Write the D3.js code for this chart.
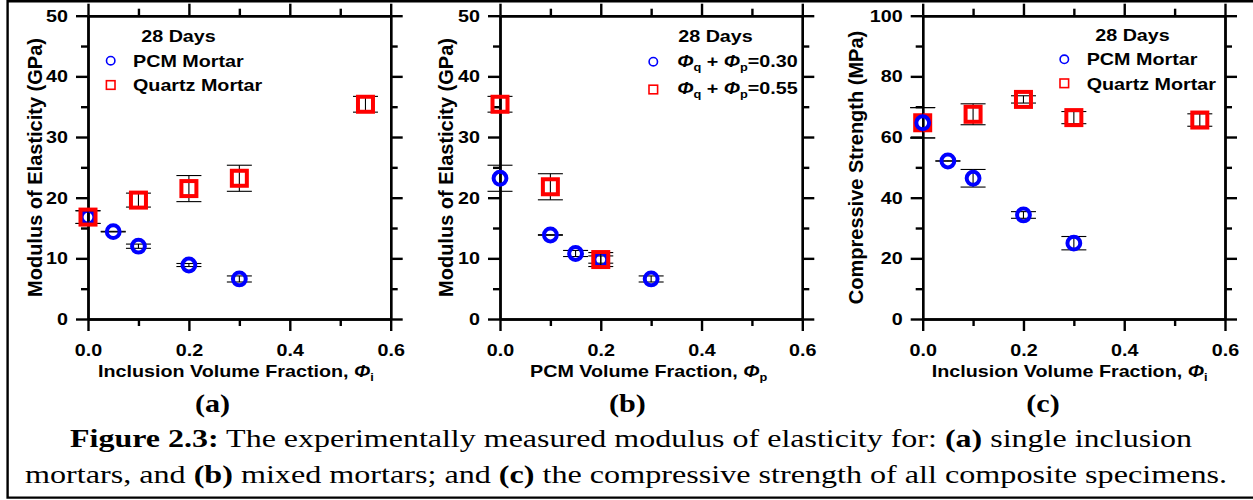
<!DOCTYPE html>
<html>
<head>
<meta charset="utf-8">
<script src="https://cdn.jsdelivr.net/npm/d3@7"></script>
<style>
  html, body { margin: 0; padding: 0; background: #fff; }
  svg { display: block; }
  text { white-space: pre; }
</style>
</head>
<body>
<svg id="fig" width="1253" height="500"></svg>
<script>
// ---------- data: 28-day measurements ----------
// (a) modulus of elasticity of single-inclusion mortars (GPa)
const pcmFracA      = [0, 0.05, 0.1, 0.2, 0.3];
const pcmModulusA   = [16.8, 14.4, 12.0, 8.9, 6.6];
const pcmModErrA    = [1.05, 0.05, 0.35, 0.25, 0.5];
const quartzFracA   = [0, 0.1, 0.2, 0.3, 0.55];
const quartzModulusA = [16.8, 19.6, 21.5, 23.2, 35.4];
const quartzModErrA = [1.05, 1.15, 2.15, 2.15, 1.3];

// (b) modulus of elasticity of mixed mortars vs PCM fraction (GPa)
const mix30Frac     = [0, 0.1, 0.15, 0.2, 0.3];
const mix30Modulus  = [23.2, 13.85, 10.8, 9.8, 6.6];
const mix30Err      = [2.15, 0.05, 0.5, 0.6, 0.5];
const mix55Frac     = [0, 0.1, 0.2];
const mix55Modulus  = [35.4, 21.8, 9.8];
const mix55Err      = [1.3, 2.15, 1.15];

// (c) compressive strength (MPa)
const pcmFracC      = [0, 0.05, 0.1, 0.2, 0.3];
const pcmStrength   = [64.7, 52.1, 46.4, 34.3, 25.0];
const pcmStrErr     = [5.0, 0.05, 2.9, 1.1, 2.2];
const quartzFracC   = [0, 0.1, 0.2, 0.3, 0.55];
const quartzStrength = [64.7, 67.5, 72.4, 66.4, 65.6];
const quartzStrErr  = [5.0, 3.45, 1.2, 2.0, 2.05];

// axis ticks
const xMajorTicks = [0, 0.2, 0.4, 0.6];
const xMinorTicks = [0.1, 0.3, 0.5];
const eMajorTicks = [0, 10, 20, 30, 40, 50];
const eMinorTicks = [5, 15, 25, 35, 45];
const sMajorTicks = [0, 20, 40, 60, 80, 100];
const sMinorTicks = [10, 30, 50, 70, 90];

// ---------- drawing ----------
const svg = d3.select('#fig');
const SX = 1.16;                       // horizontal text stretch
const SANS = "'Liberation Sans', Arial, sans-serif";
const SERIF = "'Liberation Serif', 'Times New Roman', serif";
const BLUE = '#0000ff', RED = '#ff0000';

function hText(parent, x, y, anchor, size, weight, fam) {
  return parent.append('text')
    .style('font-family', fam || SANS)
    .attr('transform', `translate(${x},${y}) scale(${SX},1)`)
    .attr('text-anchor', anchor)
    .attr('font-size', size)
    .attr('font-weight', weight)
    .attr('fill', '#000');
}

// figure frame (open on the right)
svg.append('path')
  .attr('d', 'M1253,1.2 H7.6 V497.6 H1253')
  .attr('fill', 'none').attr('stroke', '#000').attr('stroke-width', 2.4);

function styleAxis(sel) {
  sel.selectAll('path, line').attr('stroke', '#000').attr('stroke-width', 2.4);
}

function drawAxes(g, x, y, yMajor, yMinor) {
  const yBot = y.range()[0], yTop = y.range()[1];
  const xL = x.range()[0], xR = x.range()[1];
  const fmtX = d3.format('.1f');

  // bottom with labels
  const bot = g.append('g').attr('transform', `translate(0,${yBot})`)
    .call(d3.axisBottom(x).tickValues(xMajorTicks).tickSize(12).tickSizeOuter(0).tickPadding(13).tickFormat(fmtX));
  bot.call(styleAxis);
  bot.selectAll('text').style('font-family', SANS).attr('font-size', 17).attr('font-weight', 'bold')
    .attr('fill', '#000').attr('transform', `scale(${SX},1)`);
  g.append('g').attr('transform', `translate(0,${yBot})`)
    .call(d3.axisBottom(x).tickValues(xMinorTicks).tickSize(7).tickSizeOuter(0).tickFormat(''))
    .call(styleAxis);

  // top
  g.append('g').attr('transform', `translate(0,${yTop})`)
    .call(d3.axisTop(x).tickValues(xMajorTicks).tickSize(12).tickSizeOuter(0).tickFormat(''))
    .call(styleAxis);
  g.append('g').attr('transform', `translate(0,${yTop})`)
    .call(d3.axisTop(x).tickValues(xMinorTicks).tickSize(7).tickSizeOuter(0).tickFormat(''))
    .call(styleAxis);

  // left with labels
  const left = g.append('g').attr('transform', `translate(${xL},0)`)
    .call(d3.axisLeft(y).tickValues(yMajor).tickSize(12).tickSizeOuter(0).tickFormat(d3.format('d')));
  left.call(styleAxis);
  left.selectAll('text').style('font-family', SANS).attr('font-size', 17).attr('font-weight', 'bold')
    .attr('fill', '#000').attr('x', 0).attr('transform', `translate(-20,0) scale(${SX},1)`);
  g.append('g').attr('transform', `translate(${xL},0)`)
    .call(d3.axisLeft(y).tickValues(yMinor).tickSize(7).tickSizeOuter(0).tickFormat(''))
    .call(styleAxis);

  // right
  g.append('g').attr('transform', `translate(${xR},0)`)
    .call(d3.axisRight(y).tickValues(yMajor).tickSize(12).tickSizeOuter(0).tickFormat(''))
    .call(styleAxis);
  g.append('g').attr('transform', `translate(${xR},0)`)
    .call(d3.axisRight(y).tickValues(yMinor).tickSize(7).tickSizeOuter(0).tickFormat(''))
    .call(styleAxis);
}

function drawSeries(g, x, y, xs, ys, errs, shape, color) {
  const pts = xs.map((v, i) => ({ x: v, y: ys[i], e: errs[i] }));
  const eb = g.append('g').attr('stroke', '#000').attr('stroke-width', 1.1).attr('fill', 'none');
  const cap = 12.5;
  pts.forEach(p => {
    const cx = x(p.x), t = y(p.y + p.e), b = y(p.y - p.e);
    eb.append('line').attr('x1', cx).attr('x2', cx).attr('y1', t).attr('y2', b);
    eb.append('line').attr('x1', cx - cap).attr('x2', cx + cap).attr('y1', t).attr('y2', t);
    eb.append('line').attr('x1', cx - cap).attr('x2', cx + cap).attr('y1', b).attr('y2', b);
  });
  const mk = g.append('g').attr('fill', 'none').attr('stroke', color).attr('stroke-width', 4);
  if (shape === 'circle') {
    mk.selectAll('circle').data(pts).join('circle')
      .attr('cx', d => x(d.x)).attr('cy', d => y(d.y)).attr('r', 6.4);
  } else {
    const s = 15;
    mk.selectAll('rect').data(pts).join('rect')
      .attr('x', d => x(d.x) - s / 2).attr('y', d => y(d.y) - s / 2)
      .attr('width', s).attr('height', s);
  }
}

function legendMarker(g, shape, cx, cy, color) {
  if (shape === 'circle') {
    g.append('circle').attr('cx', cx).attr('cy', cy).attr('r', 4.2)
      .attr('fill', 'none').attr('stroke', color).attr('stroke-width', 1.6);
  } else {
    g.append('rect').attr('x', cx - 4.3).attr('y', cy - 4.3).attr('width', 8.6).attr('height', 8.6)
      .attr('fill', 'none').attr('stroke', color).attr('stroke-width', 1.6);
  }
}

function yTitle(g, bx, cy, txt) {
  g.append('text').style('font-family', SANS)
    .attr('transform', `translate(${bx},${cy}) rotate(-90)`)
    .attr('text-anchor', 'middle').attr('font-size', 20).attr('font-weight', 'bold')
    .attr('fill', '#000').text(txt);
}

function phiWithSub(t, sub) {
  t.append('tspan').attr('font-style', 'italic').text('\u03A6');
  t.append('tspan').attr('font-size', 11).attr('dy', 4).text(sub);
}

// ----- panel (a) -----
{
  const g = svg.append('g');
  const x = d3.scaleLinear().domain([0, 0.6]).range([88, 390.7]);
  const y = d3.scaleLinear().domain([0, 50]).range([319, 15.7]);
  drawAxes(g, x, y, eMajorTicks, eMinorTicks);
  drawSeries(g, x, y, pcmFracA, pcmModulusA, pcmModErrA, 'circle', BLUE);
  drawSeries(g, x, y, quartzFracA, quartzModulusA, quartzModErrA, 'square', RED);

  hText(g, 178.5, 41.7, 'middle', 17, 'bold').text('28 Days');
  legendMarker(g, 'circle', 110.7, 60.7, BLUE);
  hText(g, 133, 66.6, 'start', 17, 'bold').text('PCM Mortar');
  legendMarker(g, 'square', 110.7, 85, RED);
  hText(g, 133, 91, 'start', 17, 'bold').text('Quartz Mortar');

  yTitle(g, 41.5, 167.5, 'Modulus of Elasticity (GPa)');
  const xt = hText(g, 98, 377, 'start', 17, 'bold');
  xt.append('tspan').text('Inclusion Volume Fraction, ');
  phiWithSub(xt, 'i');
  hText(g, 212.5, 412, 'middle', 26, 'bold', SERIF).text('(a)');
}

// ----- panel (b) -----
{
  const g = svg.append('g');
  const x = d3.scaleLinear().domain([0, 0.6]).range([500, 802.3]);
  const y = d3.scaleLinear().domain([0, 50]).range([319, 15.7]);
  drawAxes(g, x, y, eMajorTicks, eMinorTicks);
  drawSeries(g, x, y, mix30Frac, mix30Modulus, mix30Err, 'circle', BLUE);
  drawSeries(g, x, y, mix55Frac, mix55Modulus, mix55Err, 'square', RED);

  hText(g, 715.5, 41.7, 'middle', 17, 'bold').text('28 Days');
  legendMarker(g, 'circle', 653.3, 61.7, BLUE);
  const l1 = hText(g, 677.3, 66.5, 'start', 17, 'bold');
  phiWithSub(l1, 'q');
  l1.append('tspan').attr('dy', -4).text(' + ');
  phiWithSub(l1, 'p');
  l1.append('tspan').attr('dy', -4).text('=0.30');
  legendMarker(g, 'square', 653.3, 89.5, RED);
  const l2 = hText(g, 677.3, 94, 'start', 17, 'bold');
  phiWithSub(l2, 'q');
  l2.append('tspan').attr('dy', -4).text(' + ');
  phiWithSub(l2, 'p');
  l2.append('tspan').attr('dy', -4).text('=0.55');

  yTitle(g, 453.3, 167.5, 'Modulus of Elasticity (GPa)');
  const xt = hText(g, 530, 377, 'start', 17, 'bold');
  xt.append('tspan').text('PCM Volume Fraction, ');
  phiWithSub(xt, 'p');
  hText(g, 627.5, 412, 'middle', 26, 'bold', SERIF).text('(b)');
}

// ----- panel (c) -----
{
  const g = svg.append('g');
  const x = d3.scaleLinear().domain([0, 0.6]).range([922.7, 1225]);
  const y = d3.scaleLinear().domain([0, 100]).range([319, 15.7]);
  drawAxes(g, x, y, sMajorTicks, sMinorTicks);
  drawSeries(g, x, y, quartzFracC, quartzStrength, quartzStrErr, 'square', RED);
  drawSeries(g, x, y, pcmFracC, pcmStrength, pcmStrErr, 'circle', BLUE);

  hText(g, 1132.5, 40.7, 'middle', 17, 'bold').text('28 Days');
  legendMarker(g, 'circle', 1064.3, 59.3, BLUE);
  hText(g, 1086.7, 65, 'start', 17, 'bold').text('PCM Mortar');
  legendMarker(g, 'square', 1064.3, 83.3, RED);
  hText(g, 1086.7, 89.5, 'start', 17, 'bold').text('Quartz Mortar');

  yTitle(g, 863.3, 167.5, 'Compressive Strength (MPa)');
  const xt = hText(g, 931.7, 377, 'start', 17, 'bold');
  xt.append('tspan').text('Inclusion Volume Fraction, ');
  phiWithSub(xt, 'i');
  hText(g, 1043, 412, 'middle', 26, 'bold', SERIF).text('(c)');
}

// ----- caption -----
{
  const c1 = svg.append('text').style('font-family', SERIF)
    .attr('x', 631).attr('y', 447).attr('text-anchor', 'middle')
    .attr('font-size', 26).attr('fill', '#000')
    .attr('textLength', 1122).attr('lengthAdjust', 'spacingAndGlyphs');
  c1.append('tspan').attr('font-weight', 'bold').text('Figure 2.3:');
  c1.append('tspan').text(' The experimentally measured modulus of elasticity for: ');
  c1.append('tspan').attr('font-weight', 'bold').text('(a)');
  c1.append('tspan').text(' single inclusion');

  const c2 = svg.append('text').style('font-family', SERIF)
    .attr('x', 626).attr('y', 483).attr('text-anchor', 'middle')
    .attr('font-size', 26).attr('fill', '#000')
    .attr('textLength', 1202).attr('lengthAdjust', 'spacingAndGlyphs');
  c2.append('tspan').text('mortars, and ');
  c2.append('tspan').attr('font-weight', 'bold').text('(b)');
  c2.append('tspan').text(' mixed mortars; and ');
  c2.append('tspan').attr('font-weight', 'bold').text('(c)');
  c2.append('tspan').text(' the compressive strength of all composite specimens.');
}
</script>
</body>
</html>
